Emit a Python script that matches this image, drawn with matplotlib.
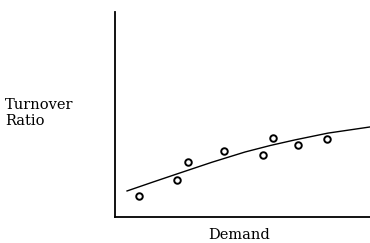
import numpy as np
import matplotlib
matplotlib.use("Agg")
import matplotlib.pyplot as plt

# observed points (demand, turnover ratio), arbitrary units
demand = [0.94, 2.43, 2.86, 4.27, 5.80, 6.20, 7.18, 8.31]
turnover = [1.02, 1.80, 2.68, 3.22, 3.02, 3.85, 3.51, 3.80]

# fitted curve
fit_x = [0.47, 1.5, 2.43, 3.8, 5.1, 6.1, 7.06, 8.35, 10.0]
fit_y = [1.27, 1.71, 2.10, 2.67, 3.17, 3.49, 3.76, 4.09, 4.39]

plt.rcParams['font.family'] = ['DejaVu Serif']

fig = plt.figure(figsize=(3.7, 2.43), dpi=100)
ax = fig.add_axes([0.311, 0.107, 0.689, 0.844])

ax.plot(fit_x, fit_y, color='black', lw=1.0)
ax.scatter(demand, turnover, s=22, facecolors='white', edgecolors='black', linewidths=1.4, zorder=3)

ax.set_xlim(0, 10)
ax.set_ylim(0, 10)
ax.set_xticks([])
ax.set_yticks([])
for s in ['top', 'right']:
    ax.spines[s].set_visible(False)
for s in ['left', 'bottom']:
    ax.spines[s].set_linewidth(1.3)

fig.text(0.014, 0.535, "Turnover\nRatio", fontsize=10.5, ha='left', va='center', linespacing=1.2)
fig.text(0.645, 0.005, "Demand", fontsize=10.5, ha='center', va='bottom')

fig.savefig("out.png", dpi=100)
